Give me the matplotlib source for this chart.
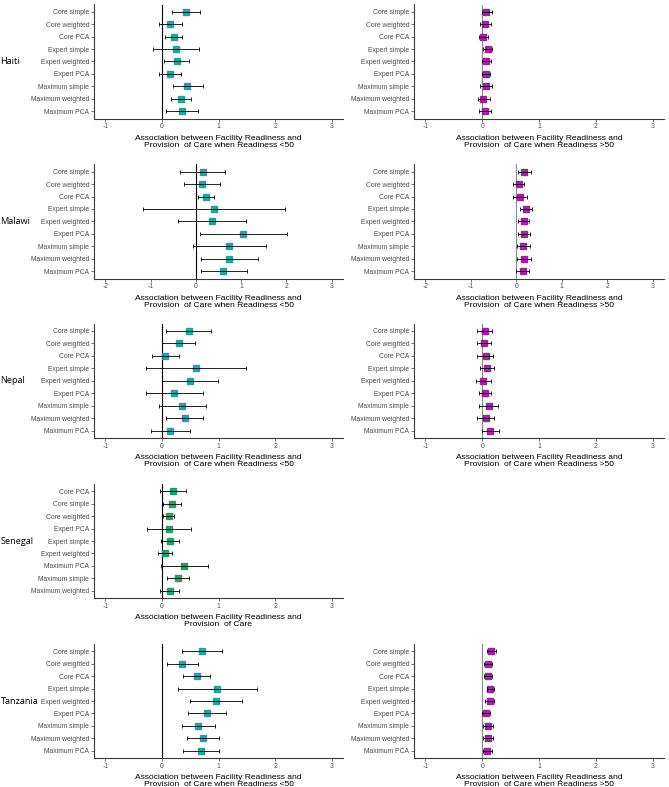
import matplotlib
matplotlib.use("Agg")
import matplotlib.pyplot as plt

W, H = 669, 787

labels = ["Core simple", "Core weighted", "Core PCA", "Expert simple", "Expert weighted",
          "Expert PCA", "Maximum simple", "Maximum weighted", "Maximum PCA"]
senegal_labels = ["Core PCA", "Core simple", "Core weighted", "Expert PCA", "Expert simple",
                  "Expert weighted", "Maximum PCA", "Maximum simple", "Maximum weighted"]

# estimate, lower, upper  (readiness <50)
haiti_lo = [0.42, 0.15, 0.21, 0.25, 0.26, 0.14, 0.45, 0.34, 0.35]
haiti_lo_l = [0.18, -0.05, 0.06, -0.15, 0.04, -0.05, 0.19, 0.16, 0.08]
haiti_lo_u = [0.68, 0.35, 0.36, 0.66, 0.48, 0.34, 0.73, 0.52, 0.64]
# readiness >50
haiti_hi = [0.07, 0.05, 0.02, 0.10, 0.07, 0.06, 0.07, 0.02, 0.05]
haiti_hi_l = [-0.01, -0.03, -0.06, 0.02, -0.01, 0.00, -0.03, -0.08, -0.05]
haiti_hi_u = [0.17, 0.15, 0.11, 0.18, 0.16, 0.14, 0.18, 0.14, 0.15]

malawi_lo = [0.15, 0.13, 0.22, 0.40, 0.35, 1.04, 0.74, 0.74, 0.61]
malawi_lo_l = [-0.34, -0.26, 0.05, -1.16, -0.40, 0.10, -0.07, 0.12, 0.12]
malawi_lo_u = [0.65, 0.54, 0.40, 1.97, 1.10, 2.01, 1.55, 1.37, 1.12]
malawi_hi = [0.18, 0.06, 0.08, 0.22, 0.17, 0.18, 0.15, 0.16, 0.15]
malawi_hi_l = [0.03, -0.07, -0.07, 0.09, 0.04, 0.04, 0.01, 0.01, 0.00]
malawi_hi_u = [0.33, 0.18, 0.23, 0.35, 0.28, 0.31, 0.30, 0.33, 0.29]

nepal_lo = [0.48, 0.30, 0.06, 0.60, 0.49, 0.22, 0.35, 0.40, 0.14]
nepal_lo_l = [0.08, 0.01, -0.18, -0.28, 0.01, -0.28, -0.06, 0.08, -0.20]
nepal_lo_u = [0.87, 0.59, 0.30, 1.48, 0.99, 0.72, 0.78, 0.73, 0.49]
nepal_hi = [0.05, 0.03, 0.06, 0.09, 0.02, 0.05, 0.12, 0.06, 0.14]
nepal_hi_l = [-0.09, -0.09, -0.09, -0.03, -0.11, -0.06, -0.05, -0.10, -0.01]
nepal_hi_u = [0.17, 0.16, 0.19, 0.21, 0.16, 0.16, 0.27, 0.21, 0.30]

senegal = [0.19, 0.18, 0.12, 0.13, 0.14, 0.05, 0.39, 0.28, 0.14]
senegal_l = [-0.04, 0.02, 0.02, -0.26, -0.02, -0.07, -0.01, 0.09, -0.03]
senegal_u = [0.42, 0.34, 0.22, 0.52, 0.31, 0.18, 0.81, 0.48, 0.31]

tanzania_lo = [0.71, 0.36, 0.62, 0.98, 0.95, 0.80, 0.64, 0.72, 0.69]
tanzania_lo_l = [0.36, 0.09, 0.38, 0.29, 0.49, 0.46, 0.35, 0.44, 0.38]
tanzania_lo_u = [1.06, 0.64, 0.85, 1.68, 1.42, 1.14, 0.94, 1.00, 1.00]
tanzania_hi = [0.16, 0.11, 0.11, 0.14, 0.13, 0.06, 0.11, 0.10, 0.09]
tanzania_hi_l = [0.09, 0.04, 0.03, 0.08, 0.05, 0.00, 0.02, 0.02, 0.02]
tanzania_hi_u = [0.24, 0.18, 0.18, 0.21, 0.21, 0.14, 0.19, 0.19, 0.18]

TEAL = "#119b9b"
PURPLE = "#9c0f9c"
GREEN = "#11995a"
TICK_GREY = "#4d4d4d"
AX_GREY = "#3a3a3a"

title_lo = "Association between Facility Readiness and\nProvision  of Care when Readiness <50"
title_hi = "Association between Facility Readiness and\nProvision  of Care when Readiness >50"
title_sn = "Association between Facility Readiness and\nProvision  of Care"

fig = plt.figure(figsize=(W / 100, H / 100), dpi=100)


def panel(x0, x1, top, bottom, cats, est, lo, hi, color, lims, ticks, title, zero_col):
    ax = fig.add_axes([x0 / W, 1 - bottom / H, (x1 - x0) / W, (bottom - top) / H])
    y = list(range(len(cats)))
    ax.axvline(0, color=zero_col, lw=0.8, zorder=1)
    ax.plot(est, y, "s", color=color, ms=4.6, mec=color, alpha=0.9, zorder=2)
    xerr = [[e - l for e, l in zip(est, lo)], [h - e for e, h in zip(est, hi)]]
    ax.errorbar(est, y, xerr=xerr, fmt="none", ecolor="black", elinewidth=0.6,
                capsize=1.2, capthick=0.6, zorder=3)
    ax.set_yticks(y)
    ax.set_yticklabels(cats, fontsize=4.85, color=TICK_GREY, family="Liberation Sans")
    ax.set_ylim(len(cats) - 0.4, -0.6)
    ax.set_xlim(*lims)
    ax.set_xticks(ticks)
    ax.set_xticklabels([str(t) for t in ticks], fontsize=4.85, color=TICK_GREY,
                       family="Liberation Sans")
    ax.tick_params(length=2, width=0.5, color=AX_GREY, pad=1.5)
    for s in ["top", "right"]:
        ax.spines[s].set_visible(False)
    for s in ["left", "bottom"]:
        ax.spines[s].set_color(AX_GREY)
        ax.spines[s].set_linewidth(0.8)
    ax.set_xlabel(title, fontsize=6.1, family="Liberation Sans", labelpad=3, linespacing=1.0)
    return ax


LX0, LX1 = 94, 343
RX0, RX1 = 414, 664
lim1 = (-1.2, 3.2)
lim2 = (-2.25, 3.25)
t1 = [-1, 0, 1, 2, 3]
t2 = [-2, -1, 0, 1, 2, 3]

rows = [
    ("Haiti", 4.5, 118.5, lim1, t1,
     (haiti_lo, haiti_lo_l, haiti_lo_u), (haiti_hi, haiti_hi_l, haiti_hi_u)),
    ("Malawi", 164.2, 278.5, lim2, t2,
     (malawi_lo, malawi_lo_l, malawi_lo_u), (malawi_hi, malawi_hi_l, malawi_hi_u)),
    ("Nepal", 323.5, 438, lim1, t1,
     (nepal_lo, nepal_lo_l, nepal_lo_u), (nepal_hi, nepal_hi_l, nepal_hi_u)),
    ("Senegal", 484, 598, lim1, t1, (senegal, senegal_l, senegal_u), None),
    ("Tanzania", 644, 758, lim1, t1,
     (tanzania_lo, tanzania_lo_l, tanzania_lo_u), (tanzania_hi, tanzania_hi_l, tanzania_hi_u)),
]

for name, top, bottom, lims, ticks, left, right in rows:
    if name == "Senegal":
        panel(LX0, LX1, top, bottom, senegal_labels, *left, GREEN, lims, ticks, title_sn, "black")
    else:
        panel(LX0, LX1, top, bottom, labels, *left, TEAL, lims, ticks, title_lo, "black")
    if right is not None:
        panel(RX0, RX1, top, bottom, labels, *right, PURPLE, lims, ticks, title_hi, "#8a8a8a")
    fig.text(0.5 / W, 1 - (top + bottom) / 2 / H, name, fontsize=6.6, family="Open Sans",
             ha="left", va="center", color="black")

fig.savefig("out.png", dpi=100)
